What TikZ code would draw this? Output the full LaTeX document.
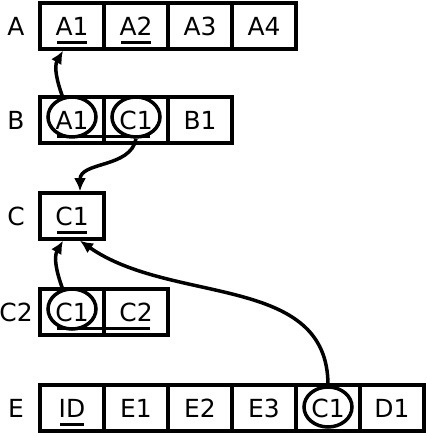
\documentclass[tikz,border=0pt]{standalone}
\usepackage{fontspec}
\setmainfont{DejaVu Sans}
\usetikzlibrary{arrows.meta,shapes.geometric}
\tikzset{
  cell/.style={draw,line width=3.5bp,minimum width=64bp,minimum height=46bp,inner sep=0pt,font=\fontsize{25}{29}\selectfont},
  rowlabel/.style={inner sep=0pt,font=\fontsize{25}{29}\selectfont},
  ring/.style={draw,ellipse,line width=3.5bp,minimum width=48bp,minimum height=40bp,inner sep=0pt},
  keyline/.style={line width=3bp},
  fklink/.style={line width=3.5bp,-{Latex[length=13bp,width=12bp]}}
}

\begin{document}
\begin{tikzpicture}[x=1bp,y=1bp]
\useasboundingbox (0,0) rectangle (426,436);

\node[rowlabel] (la) at (16,410) {A};
\node[rowlabel] (lb) at (16,316) {B};
\node[rowlabel] (lc) at (16,220) {C};
\node[rowlabel] (lctwo) at (16,124) {C2};
\node[rowlabel] (le) at (16,28) {E};

\foreach \t [count=\i] in {A1,A2,A3,A4}
  \node[cell] (a\i) at (8+64*\i,410) {\t};
\foreach \t [count=\i] in {A1,C1,B1}
  \node[cell] (b\i) at (8+64*\i,316) {\t};
\node[cell] (c1) at (72,220) {C1};
\foreach \t [count=\i] in {C1,C2}
  \node[cell] (ctwo\i) at (8+64*\i,124) {\t};
\foreach \t [count=\i] in {ID,E1,E2,E3,C1,D1}
  \node[cell] (e\i) at (8+64*\i,28) {\t};

% primary keys
\draw[keyline] ([xshift=-15bp,yshift=-17bp]a1.center) -- ([xshift=15bp,yshift=-17bp]a1.center);
\draw[keyline] ([xshift=-15bp,yshift=-17bp]a2.center) -- ([xshift=15bp,yshift=-17bp]a2.center);
\draw[keyline] ([xshift=-15bp,yshift=-17bp]b1.center) -- ([xshift=14bp,yshift=-17bp]b2.center);
\draw[keyline] ([xshift=-15bp,yshift=-17bp]c1.center) -- ([xshift=15bp,yshift=-17bp]c1.center);
\draw[keyline] ([xshift=-15bp,yshift=-17bp]ctwo1.center) -- ([xshift=14bp,yshift=-17bp]ctwo2.center);
\draw[keyline] ([xshift=-12bp,yshift=-17bp]e1.center) -- ([xshift=12bp,yshift=-17bp]e1.center);

% foreign keys
\node[ring] (rb1) at ([yshift=3bp]b1.center) {};
\node[ring] (rb2) at ([yshift=3bp]b2.center) {};
\node[ring] (rctwo1) at ([yshift=3bp]ctwo1.center) {};
\node[ring] (re5) at ([yshift=1bp]e5.center) {};

\draw[fklink] (rb1.115) to[out=110,in=-120] ([xshift=-9bp]a1.south);
\draw[fklink] (rb2.south) to[out=-100,in=90] ([xshift=8bp]c1.north);
\draw[fklink] (rctwo1.115) to[out=110,in=-120] ([xshift=-9bp]c1.south);
\draw[fklink] (re5.north) to[out=90,in=-35] ([xshift=8bp]c1.south);

\end{tikzpicture}
\end{document}
